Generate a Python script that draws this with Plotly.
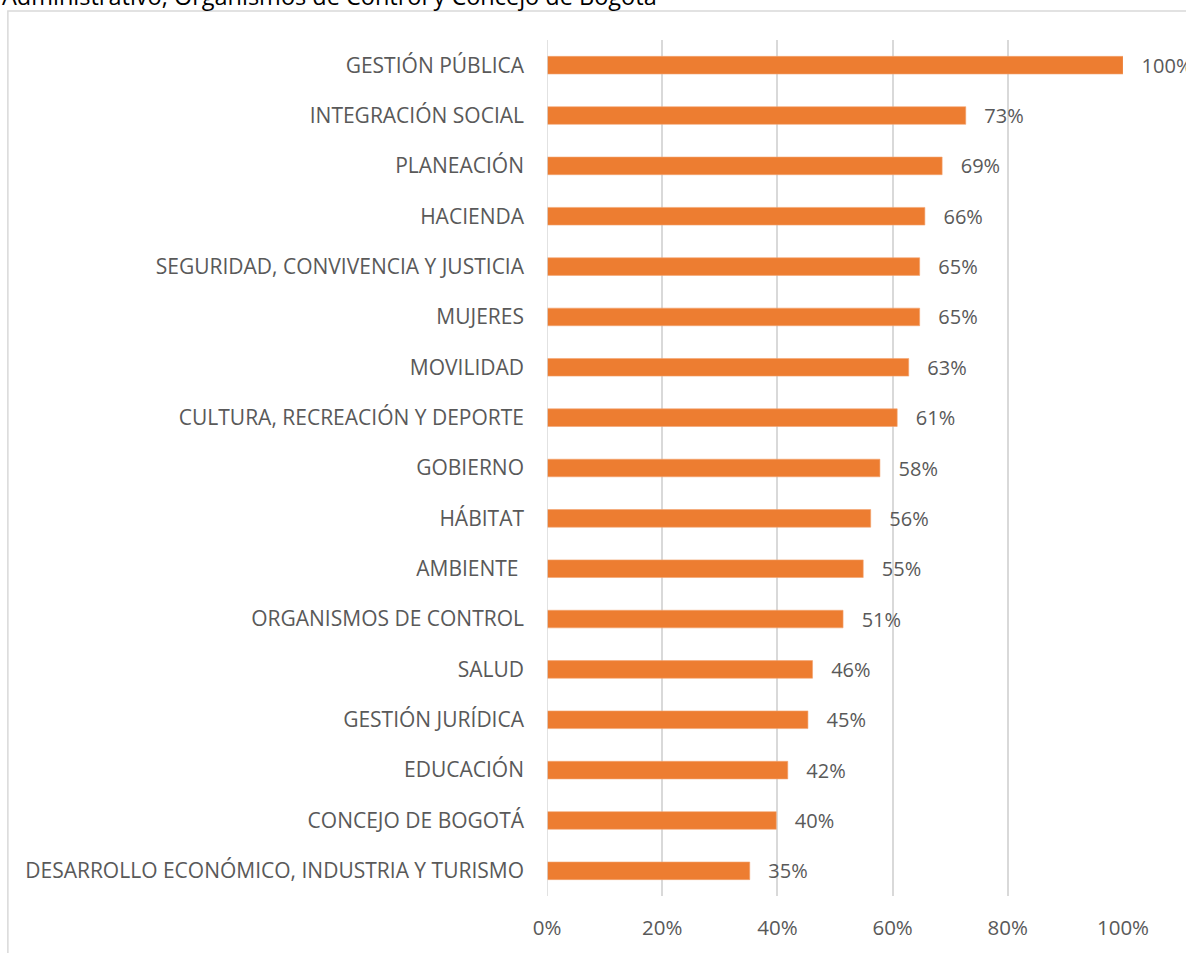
import plotly.graph_objects as go

sectores = [
    "GESTIÓN PÚBLICA",
    "INTEGRACIÓN SOCIAL",
    "PLANEACIÓN",
    "HACIENDA",
    "SEGURIDAD, CONVIVENCIA Y JUSTICIA",
    "MUJERES",
    "MOVILIDAD",
    "CULTURA, RECREACIÓN Y DEPORTE",
    "GOBIERNO",
    "HÁBITAT",
    "AMBIENTE ",
    "ORGANISMOS DE CONTROL",
    "SALUD",
    "GESTIÓN JURÍDICA",
    "EDUCACIÓN",
    "CONCEJO DE BOGOTÁ",
    "DESARROLLO ECONÓMICO, INDUSTRIA Y TURISMO",
]
porcentaje = [1.00, 0.727, 0.686, 0.656, 0.647, 0.647, 0.628, 0.608, 0.578,
              0.562, 0.549, 0.514, 0.461, 0.453, 0.418, 0.398, 0.352]
ticks_x = [0, 0.2, 0.4, 0.6, 0.8, 1.0]
ticks_txt = ["0%", "20%", "40%", "60%", "80%", "100%"]
titulo = "Administrativo, Organismos de Control y Concejo de Bogotá"

gris = "#595959"
fuente = "Open Sans"

fig = go.Figure(go.Bar(
    x=porcentaje,
    y=sectores,
    orientation="h",
    marker=dict(color="#ED7D31", line=dict(color="#F4A470", width=0.6)),
    texttemplate="   %{x:.0%}",
    textposition="outside",
    constraintext="none",
    cliponaxis=False,
    textfont=dict(size=20, color=gris, family=fuente),
))

fig.update_layout(
    width=1186,
    height=953,
    margin=dict(l=547, r=63, t=40, b=55),
    paper_bgcolor="white",
    plot_bgcolor="white",
    bargap=0.65,
    showlegend=False,
    uniformtext_mode=False,
    font=dict(family=fuente, color=gris),
    xaxis=dict(
        range=[0, 1],
        tickvals=ticks_x,
        ticktext=ticks_txt,
        showgrid=True,
        gridcolor="#d9d9d9",
        gridwidth=1.5,
        zeroline=False,
        showline=False,
        ticks="",
        ticklabelstandoff=17,
        tickfont=dict(size=20.5, color=gris),
    ),
    yaxis=dict(
        autorange="reversed",
        showgrid=False,
        showline=False,
        ticks="",
        ticklabelstandoff=22,
        tickfont=dict(size=21, color=gris),
    ),
    shapes=[
        dict(type="rect", xref="paper", yref="paper",
             x0=-0.936, x1=1.2, y0=-0.2, y1=1.0338,
             line=dict(color="#d9d9d9", width=1.5), fillcolor="rgba(0,0,0,0)",
             layer="below"),
        dict(type="line", xref="x", yref="paper", x0=0, x1=0, y0=0, y1=1,
             line=dict(color="#d9d9d9", width=1.5)),
    ],
    annotations=[
        # el título viene recortado arriba en la imagen original
        dict(text=titulo, xref="paper", yref="paper", x=-0.9497, y=1.0303,
             xanchor="left", yanchor="bottom", showarrow=False,
             font=dict(size=23.5, color="black", family=fuente)),
    ],
)

# quitar el margen del body para que la figura quede en (0, 0)
fig.write_html("out.html", config={"displayModeBar": False},
               post_script="document.body.style.margin='0';")
